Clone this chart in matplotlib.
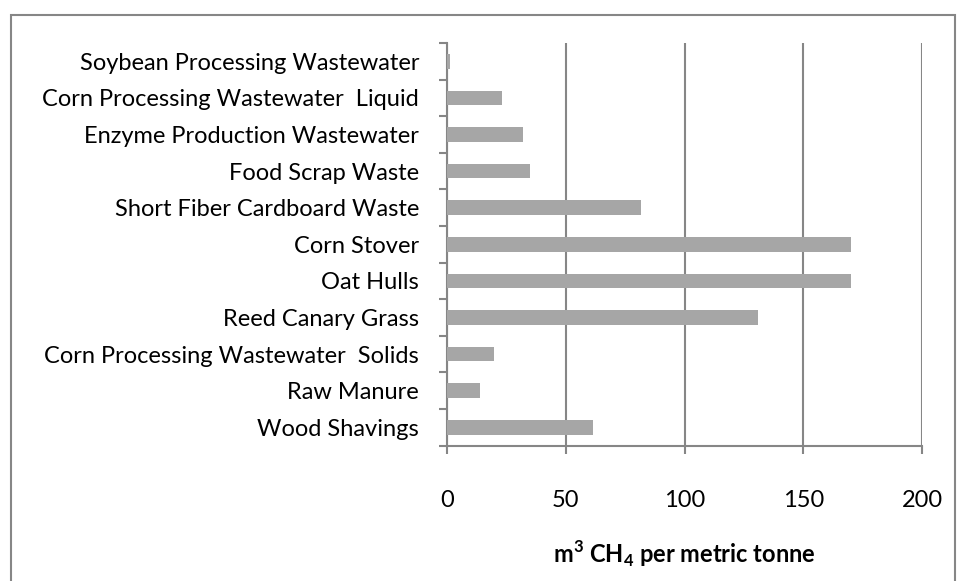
import matplotlib
matplotlib.use('Agg')
import matplotlib.pyplot as plt
from matplotlib.patches import Rectangle
import numpy as np

# Datos (de arriba hacia abajo)
categorias = [
    'Soybean Processing Wastewater',
    'Corn Processing Wastewater  Liquid',
    'Enzyme Production Wastewater',
    'Food Scrap Waste',
    'Short Fiber Cardboard Waste',
    'Corn Stover',
    'Oat Hulls',
    'Reed Canary Grass',
    'Corn Processing Wastewater  Solids',
    'Raw Manure',
    'Wood Shavings',
]
valores = [1.4, 23.3, 31.8, 35.0, 81.8, 169.9, 169.9, 130.8, 19.9, 14.0, 61.4]
ticks_x = [0, 50, 100, 150, 200]
titulo_x = r'm$^\mathbf{3}$ CH$_\mathbf{4}$ per metric tonne'

plt.rcParams['font.family'] = ['Lato', 'DejaVu Sans']
plt.rcParams['mathtext.fontset'] = 'custom'
plt.rcParams['mathtext.rm'] = 'Lato'
plt.rcParams['mathtext.bf'] = 'Lato:bold'

gris = '#868686'
fs = 17

fig = plt.figure(figsize=(9.58, 5.81), dpi=100)
ax = fig.add_axes([447 / 958, 1 - 445.5 / 581, (922 - 447) / 958, (445.5 - 43) / 581])

n = len(categorias)
y = np.arange(n)[::-1]
ax.barh(y, valores, height=0.4, color='#A6A6A6', zorder=3)

ax.set_xlim(0, 200)
ax.set_ylim(-0.5, n - 0.5)
ax.set_xticks(ticks_x)
ax.set_xticklabels([str(t) for t in ticks_x], fontsize=fs)
ax.set_yticks(y)
ax.set_yticklabels(categorias, fontsize=fs)
ax.set_yticks(np.arange(n + 1) - 0.5, minor=True)

ax.tick_params(axis='y', which='major', length=0, pad=20, colors='black')
ax.tick_params(axis='y', which='minor', length=6, width=1.5, color=gris)
ax.tick_params(axis='x', which='major', length=6, width=1.5, color=gris, pad=26)

ax.grid(axis='x', color=gris, linewidth=1.5, zorder=0)
for s in ['top', 'right']:
    ax.spines[s].set_visible(False)
for s in ['left', 'bottom']:
    ax.spines[s].set_color(gris)
    ax.spines[s].set_linewidth(1.5)

ax.set_xlabel(titulo_x, fontsize=fs, fontweight='bold', labelpad=20)

# Borde del área del gráfico
fig.patches.append(Rectangle((11 / 958, -0.05), (955 - 11) / 958, 1.05 - 15 / 581,
                             transform=fig.transFigure, fill=False,
                             edgecolor=gris, linewidth=1.5))

fig.savefig('out.png', dpi=100)
